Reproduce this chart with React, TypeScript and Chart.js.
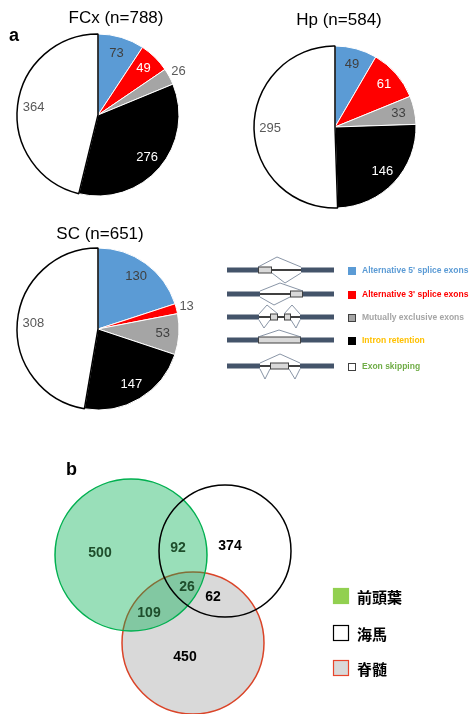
import React, { useEffect, useRef } from 'react';
import { Chart, registerables } from 'chart.js';
Chart.register(...registerables);

// ---------- DATA ----------
const CATEGORIES = [
  "Alternative 5' splice exons",
  "Alternative 3' splice exons",
  'Mutually exclusive exons',
  'Intron retention',
  'Exon skipping',
];
const FCX_VALUES = [73, 49, 26, 276, 364];
const HP_VALUES = [49, 61, 33, 146, 295];
const SC_VALUES = [130, 13, 53, 147, 308];
const PIE_TITLES = ['FCx (n=788)', 'Hp (n=584)', 'SC (n=651)'];

const VENN_SETS = ['前頭葉', '海馬', '脊髄'];
// region counts: FCx only, Hp only, SC only, FCx∩Hp, FCx∩SC, Hp∩SC, all
const VENN_REGION_NAMES = ['FCx', 'Hp', 'SC', 'FCx+Hp', 'FCx+SC', 'Hp+SC', 'all'];
const VENN_REGION_COUNTS = [500, 374, 450, 92, 109, 62, 26];

// ---------- STYLE / LAYOUT ----------
const W = 471;
const H = 714;
const FONT = "'Liberation Sans', Arial, sans-serif";
const SLICE_COLORS = ['#5B9BD5', '#FF0000', '#A5A5A5', '#000000', '#FFFFFF'];
const SLICE_BORDERS = ['#FFFFFF', '#FFFFFF', '#FFFFFF', '#FFFFFF', '#000000'];
const SLICE_BORDER_WIDTHS = [1, 1, 1, 1, 1.5];
const LABEL_COLORS = ['#404040', '#FFFFFF', '#404040', '#FFFFFF', '#595959'];
const LEGEND_TEXT_COLORS = ['#5B9BD5', '#FF0000', '#A5A5A5', '#FFC000', '#70AD47'];
const PIE_RADIUS = 81;
const PIE_CW = 240;
const PIE_CH = 270;
const PIE_LAYOUT = [
  { cx: 98, cy: 115, tx: 116, ty: 18 },
  { cx: 335, cy: 127, tx: 339, ty: 20 },
  { cx: 98, cy: 329, tx: 100, ty: 234 },
];

const VENN_CIRCLES = [
  { x: 131, y: 555, r: 76, fill: 'rgba(0,176,80,0.40)', stroke: '#00B050', order: 2 },
  { x: 225, y: 551, r: 66, fill: 'rgba(255,255,255,0)', stroke: '#000000', order: 1 },
  { x: 193, y: 643, r: 71, fill: '#D9D9D9', stroke: '#DA4428', order: 3 },
];
const VENN_LABEL_POS = [
  { x: 100, y: 553, c: '#1E4D2B' },
  { x: 230, y: 546, c: '#000000' },
  { x: 185, y: 657, c: '#000000' },
  { x: 178, y: 548, c: '#1E4D2B' },
  { x: 149, y: 613, c: '#1E4D2B' },
  { x: 213, y: 597, c: '#000000' },
  { x: 187, y: 587, c: '#1E4D2B' },
];
const VENN_LEGEND = [
  { y: 588, fill: '#92D050', stroke: '#92D050' },
  { y: 625, fill: '#FFFFFF', stroke: '#000000' },
  { y: 660, fill: '#D9D9D9', stroke: '#E8452C' },
];

type Seg = [number, number];
type Arc3 = [number, number, number];
const SPLICE_ROWS: { y: number; bars: Seg[]; lines: Seg[]; boxes: Seg[]; top: Arc3[]; bot: Arc3[]; th: number; bh: number }[] = [
  { y: 270, bars: [[227, 258], [301, 334]], lines: [[272, 301]], boxes: [[258, 272]], top: [[258, 277, 301]], bot: [[272, 285, 301]], th: 10, bh: 10 },
  { y: 294, bars: [[227, 260], [303, 334]], lines: [[260, 290]], boxes: [[290, 303]], top: [[260, 280, 303]], bot: [[260, 274, 290]], th: 8, bh: 8 },
  { y: 317, bars: [[227, 259], [300, 334]], lines: [[259, 270], [278, 284], [291, 300]], boxes: [[270, 278], [284, 291]], top: [[259, 267, 278], [284, 292, 300]], bot: [[259, 264, 270], [291, 296, 300]], th: 9, bh: 8 },
  { y: 340, bars: [[227, 258], [301, 334]], lines: [], boxes: [[258, 301]], top: [[258, 279, 301]], bot: [], th: 7, bh: 0 },
  { y: 366, bars: [[227, 260], [300, 334]], lines: [[260, 270], [289, 300]], boxes: [[270, 289]], top: [[260, 280, 300]], bot: [[260, 265, 270], [289, 295, 300]], th: 9, bh: 10 },
];

function PieChart({ values, title, layout }: { values: number[]; title: string; layout: { cx: number; cy: number; tx: number; ty: number } }) {
  const ref = useRef<HTMLCanvasElement>(null);
  useEffect(() => {
    const labelPlugin = {
      id: 'pieLabels',
      afterDatasetsDraw(chart: any) {
        const ctx = chart.ctx;
        const meta = chart.getDatasetMeta(0);
        const data = chart.data.datasets[0].data as number[];
        const total = data.reduce((a, b) => a + b, 0);
        ctx.save();
        ctx.font = `13px ${FONT}`;
        ctx.textAlign = 'center';
        ctx.textBaseline = 'middle';
        meta.data.forEach((arc: any, i: number) => {
          const p = arc.getProps(['x', 'y', 'startAngle', 'endAngle', 'outerRadius'], true);
          const mid = (p.startAngle + p.endAngle) / 2;
          const outside = data[i] / total < 0.04;
          const rr = p.outerRadius * (outside ? 1.13 : 0.8);
          ctx.fillStyle = outside ? '#595959' : LABEL_COLORS[i];
          ctx.fillText(String(data[i]), p.x + Math.cos(mid) * rr, p.y + Math.sin(mid) * rr);
        });
        // title
        ctx.font = `17px ${FONT}`;
        ctx.fillStyle = '#000000';
        ctx.fillText(title, layout.tx - (layout.cx - PIE_CW / 2), layout.ty - (layout.cy - PIE_CH / 2));
        ctx.restore();
      },
    };
    const chart = new Chart(ref.current!, {
      type: 'pie',
      data: {
        labels: CATEGORIES,
        datasets: [
          {
            data: values,
            backgroundColor: SLICE_COLORS,
            borderColor: SLICE_BORDERS,
            borderWidth: SLICE_BORDER_WIDTHS,
            radius: PIE_RADIUS,
          } as any,
        ],
      },
      options: {
        responsive: false,
        animation: false,
        events: [],
        layout: { padding: 0, autoPadding: false },
        plugins: { legend: { display: false }, tooltip: { enabled: false }, title: { display: false } },
      } as any,
      plugins: [labelPlugin],
    });
    return () => chart.destroy();
  }, []);
  return (
    <canvas
      ref={ref}
      width={PIE_CW}
      height={PIE_CH}
      style={{ position: 'absolute', left: layout.cx - PIE_CW / 2, top: layout.cy - PIE_CH / 2, width: PIE_CW, height: PIE_CH }}
    />
  );
}

function VennAndLegend() {
  const ref = useRef<HTMLCanvasElement>(null);
  useEffect(() => {
    const overlay = {
      id: 'overlay',
      beforeDatasetsDraw(chart: any) {
        const ctx = chart.ctx;
        ctx.save();
        // panel letters
        ctx.fillStyle = '#000';
        ctx.font = `bold 18px ${FONT}`;
        ctx.textAlign = 'left';
        ctx.textBaseline = 'alphabetic';
        ctx.fillText('a', 9, 41);
        ctx.fillText('b', 66, 475);
        // splice diagrams
        SPLICE_ROWS.forEach((row, i) => {
          const y = row.y;
          ctx.fillStyle = '#44546A';
          row.bars.forEach(([a, b]) => ctx.fillRect(a, y - 2.5, b - a, 5));
          ctx.strokeStyle = '#000';
          ctx.lineWidth = 1.5;
          row.lines.forEach(([a, b]) => {
            ctx.beginPath();
            ctx.moveTo(a, y);
            ctx.lineTo(b, y);
            ctx.stroke();
          });
          row.boxes.forEach(([a, b]) => {
            ctx.fillStyle = '#D9D9D9';
            ctx.fillRect(a, y - 3, b - a, 6);
            ctx.strokeStyle = '#404040';
            ctx.lineWidth = 1;
            ctx.strokeRect(a + 0.5, y - 3, b - a - 1, 6);
          });
          ctx.strokeStyle = '#6B7A8F';
          ctx.lineWidth = 0.8;
          row.top.forEach(([a, m, b]) => {
            ctx.beginPath();
            ctx.moveTo(a, y - 3);
            ctx.lineTo(m, y - 3 - row.th);
            ctx.lineTo(b, y - 3);
            ctx.stroke();
          });
          row.bot.forEach(([a, m, b]) => {
            ctx.beginPath();
            ctx.moveTo(a, y + 3);
            ctx.lineTo(m, y + 3 + row.bh);
            ctx.lineTo(b, y + 3);
            ctx.stroke();
          });
          // legend square + text
          const ly = y + 1;
          ctx.fillStyle = SLICE_COLORS[i];
          ctx.fillRect(348, ly - 4, 8, 8);
          ctx.strokeStyle = i === 2 || i === 4 ? '#404040' : SLICE_COLORS[i];
          ctx.lineWidth = 1;
          ctx.strokeRect(348.5, ly - 3.5, 7, 7);
          ctx.fillStyle = LEGEND_TEXT_COLORS[i];
          ctx.font = `bold 8.5px ${FONT}`;
          ctx.textBaseline = 'middle';
          ctx.fillText(CATEGORIES[i], 362, ly);
        });
        ctx.restore();
      },
      afterDatasetsDraw(chart: any) {
        const ctx = chart.ctx;
        const xs = chart.scales.x;
        const ys = chart.scales.y;
        ctx.save();
        ctx.textAlign = 'center';
        ctx.textBaseline = 'middle';
        ctx.font = `bold 14px ${FONT}`;
        VENN_REGION_COUNTS.forEach((v, i) => {
          const p = VENN_LABEL_POS[i];
          ctx.fillStyle = p.c;
          ctx.fillText(String(v), xs.getPixelForValue(p.x), ys.getPixelForValue(p.y));
        });
        // venn legend
        ctx.textAlign = 'left';
        ctx.font = `bold 15px 'Noto Sans CJK JP', sans-serif`;
        VENN_SETS.forEach((name, i) => {
          const l = VENN_LEGEND[i];
          ctx.fillStyle = l.fill;
          ctx.fillRect(333, l.y, 16, 16);
          ctx.strokeStyle = l.stroke;
          ctx.lineWidth = 1.2;
          ctx.strokeRect(333.5, l.y + 0.5, 15, 15);
          ctx.fillStyle = '#000';
          ctx.fillText(name, 357, l.y + 9);
        });
        ctx.restore();
      },
    };
    const chart = new Chart(ref.current!, {
      type: 'bubble',
      data: {
        datasets: VENN_CIRCLES.map((c, i) => ({
          label: VENN_SETS[i],
          data: [{ x: c.x, y: c.y, r: c.r }],
          backgroundColor: c.fill,
          borderColor: c.stroke,
          borderWidth: 1.5,
          order: c.order,
          clip: false,
        })),
      },
      options: {
        responsive: false,
        animation: false,
        events: [],
        layout: { padding: 0, autoPadding: false },
        scales: {
          x: { type: 'linear', min: 0, max: W, display: false },
          y: { type: 'linear', min: 0, max: H, reverse: true, display: false },
        },
        plugins: { legend: { display: false }, tooltip: { enabled: false } },
      } as any,
      plugins: [overlay],
    });
    return () => chart.destroy();
  }, []);
  return <canvas ref={ref} width={W} height={H} style={{ position: 'absolute', left: 0, top: 0, width: W, height: H }} />;
}

export default function App() {
  return (
    <div style={{ position: 'fixed', left: 0, top: 0, width: W, height: H, background: '#fff', overflow: 'hidden' }}>
      <VennAndLegend />
      <PieChart values={FCX_VALUES} title={PIE_TITLES[0]} layout={PIE_LAYOUT[0]} />
      <PieChart values={HP_VALUES} title={PIE_TITLES[1]} layout={PIE_LAYOUT[1]} />
      <PieChart values={SC_VALUES} title={PIE_TITLES[2]} layout={PIE_LAYOUT[2]} />
    </div>
  );
}
